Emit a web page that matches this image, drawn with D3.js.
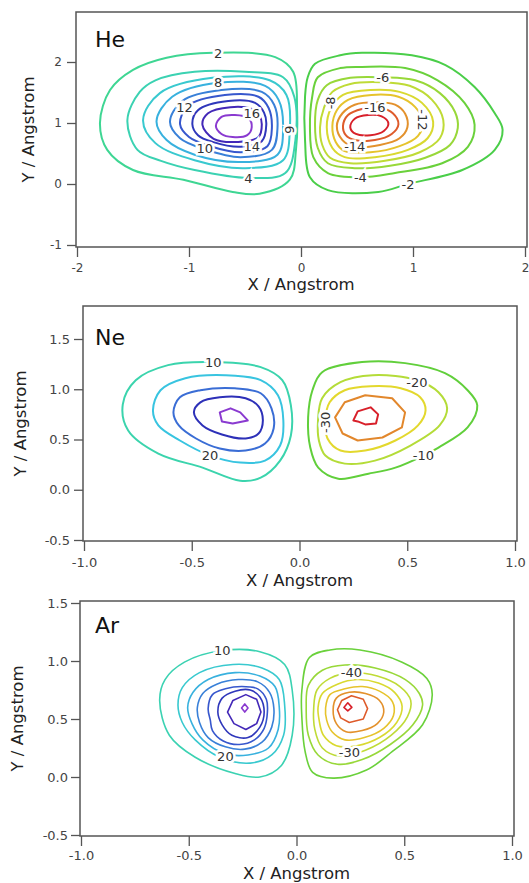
<!DOCTYPE html>
<html>
<head>
<meta charset="utf-8">
<script src="https://cdn.jsdelivr.net/npm/d3@7"></script>
<style>
body { margin: 0; background: #fff; }
text { font-family: "DejaVu Sans", sans-serif; }
</style>
</head>
<body>
<svg id="chart" width="529" height="883"></svg>
<script>
// ---- He ----
var heXTicks = [-2, -1, 0, 1, 2];
var heYTicks = [-1, 0, 1, 2];
var heLevels = [2, 4, 6, 8, 10, 12, 14, 16, 18, -2, -4, -6, -8, -10, -12, -14, -16, -18];
var hePaths = [
  [[-1.795,1.0],[-1.705,1.54],[-1.5,1.87],[-1.2,2.07],[-0.785,2.15],[-0.23,2.08],[-0.07,1.84],[-0.035,1.21],[-0.045,0.56],[-0.1,0.07],[-0.37,-0.16],[-0.61,-0.13],[-1.05,0.07],[-1.5,0.23],[-1.73,0.56]],
  [[-1.55,1.05],[-1.44,1.51],[-1.3,1.7],[-0.95,1.84],[-0.5,1.84],[-0.16,1.75],[-0.06,1.43],[-0.05,0.72],[-0.14,0.18],[-0.47,0.1],[-0.95,0.23],[-1.25,0.38],[-1.46,0.56]],
  [[-1.41,1.05],[-1.26,1.49],[-0.79,1.74],[-0.28,1.7],[-0.13,1.46],[-0.1,0.89],[-0.16,0.39],[-0.5,0.26],[-0.95,0.39],[-1.3,0.67]],
  [[-1.29,1.03],[-1.15,1.43],[-0.74,1.66],[-0.32,1.61],[-0.2,1.38],[-0.16,0.92],[-0.21,0.48],[-0.54,0.36],[-0.95,0.48],[-1.2,0.72]],
  [[-1.17,1.02],[-1.06,1.36],[-0.71,1.54],[-0.35,1.51],[-0.24,1.3],[-0.21,0.92],[-0.26,0.56],[-0.54,0.44],[-0.86,0.57],[-1.08,0.75]],
  [[-1.08,0.98],[-1.01,1.28],[-0.68,1.46],[-0.38,1.43],[-0.29,1.25],[-0.26,0.92],[-0.3,0.62],[-0.54,0.52],[-0.81,0.62],[-1.0,0.77]],
  [[-0.97,0.98],[-0.92,1.21],[-0.65,1.36],[-0.41,1.33],[-0.33,1.17],[-0.31,0.97],[-0.35,0.7],[-0.54,0.61],[-0.79,0.69],[-0.92,0.8]],
  [[-0.88,0.97],[-0.83,1.16],[-0.63,1.26],[-0.44,1.23],[-0.37,1.12],[-0.35,0.98],[-0.38,0.77],[-0.56,0.69],[-0.78,0.74]],
  [[-0.76,0.95],[-0.71,1.1],[-0.59,1.13],[-0.47,1.08],[-0.44,0.93],[-0.48,0.8],[-0.61,0.77],[-0.71,0.82]],
  [[0.036,0.72],[0.036,1.43],[0.06,1.75],[0.125,1.97],[0.35,2.11],[0.545,2.15],[0.99,2.11],[1.29,1.95],[1.55,1.59],[1.73,1.16],[1.8,0.89],[1.73,0.56],[1.44,0.23],[0.955,0.0],[0.69,-0.13],[0.24,-0.1],[0.08,0.11]],
  [[0.08,0.93],[0.1,1.43],[0.15,1.75],[0.35,1.9],[0.545,1.92],[0.93,1.9],[1.22,1.7],[1.46,1.33],[1.55,0.97],[1.49,0.61],[1.26,0.34],[0.84,0.18],[0.53,0.11],[0.24,0.18],[0.11,0.44]],
  [[0.125,0.97],[0.15,1.38],[0.23,1.62],[0.44,1.74],[0.73,1.75],[1.02,1.7],[1.24,1.49],[1.375,1.18],[1.4,0.92],[1.33,0.64],[1.11,0.43],[0.795,0.3],[0.48,0.26],[0.24,0.34],[0.15,0.59]],
  [[0.17,0.93],[0.205,1.25],[0.28,1.51],[0.44,1.64],[0.705,1.67],[0.97,1.61],[1.17,1.38],[1.27,1.05],[1.24,0.75],[1.06,0.52],[0.75,0.38],[0.44,0.34],[0.26,0.43],[0.19,0.64]],
  [[0.23,0.93],[0.27,1.25],[0.375,1.46],[0.62,1.54],[0.88,1.51],[1.08,1.33],[1.18,1.02],[1.13,0.75],[0.955,0.56],[0.66,0.44],[0.39,0.44],[0.28,0.59]],
  [[0.28,0.95],[0.32,1.21],[0.42,1.38],[0.63,1.46],[0.87,1.43],[1.02,1.26],[1.09,1.02],[1.045,0.79],[0.88,0.62],[0.62,0.52],[0.39,0.54],[0.31,0.69]],
  [[0.32,0.95],[0.37,1.16],[0.48,1.3],[0.66,1.34],[0.84,1.3],[0.93,1.15],[0.95,0.93],[0.88,0.75],[0.705,0.64],[0.48,0.61],[0.37,0.72]],
  [[0.375,0.95],[0.42,1.13],[0.545,1.23],[0.705,1.25],[0.82,1.16],[0.87,0.98],[0.81,0.82],[0.66,0.72],[0.48,0.72],[0.4,0.8]],
  [[0.44,0.93],[0.48,1.07],[0.6,1.13],[0.72,1.11],[0.78,1.0],[0.74,0.87],[0.62,0.8],[0.49,0.82]]
];
// [text, x, y, rotation]
var heLabels = [
  ["2",-0.74,2.15,0],["8",-0.74,1.66,0],["12",-1.04,1.25,0],["16",-0.44,1.16,0],
  ["10",-0.86,0.59,0],["14",-0.44,0.61,0],["4",-0.47,0.1,0],["6",-0.1,0.89,90],
  ["-6",0.73,1.75,0],["-8",0.26,1.33,-90],["-16",0.66,1.26,0],["-12",1.09,1.05,90],
  ["-14",0.48,0.61,0],["-4",0.53,0.11,0],["-2",0.955,0.0,0]
];

// ---- Ne ----
var neXTicks = [-1.0, -0.5, 0.0, 0.5, 1.0];
var neYTicks = [-0.5, 0.0, 0.5, 1.0, 1.5];
var neLevels = [10, 20, 30, 40, 50, -10, -20, -30, -40, -50];
var nePaths = [
  [[-0.82,0.85],[-0.76,1.09],[-0.61,1.24],[-0.4,1.27],[-0.18,1.22],[-0.08,1.09],[-0.04,0.84],[-0.04,0.54],[-0.09,0.29],[-0.18,0.12],[-0.275,0.09],[-0.45,0.22],[-0.655,0.36],[-0.795,0.59]],
  [[-0.68,0.79],[-0.645,0.99],[-0.53,1.11],[-0.345,1.14],[-0.18,1.09],[-0.1,0.94],[-0.075,0.69],[-0.09,0.44],[-0.16,0.29],[-0.275,0.27],[-0.415,0.34],[-0.555,0.49],[-0.655,0.64]],
  [[-0.585,0.77],[-0.555,0.92],[-0.46,0.99],[-0.3,1.01],[-0.18,0.96],[-0.13,0.81],[-0.12,0.61],[-0.16,0.46],[-0.25,0.39],[-0.37,0.41],[-0.48,0.51],[-0.56,0.64]],
  [[-0.49,0.77],[-0.46,0.87],[-0.37,0.92],[-0.25,0.91],[-0.19,0.83],[-0.17,0.69],[-0.19,0.56],[-0.25,0.51],[-0.36,0.55],[-0.45,0.64]],
  [[-0.37,0.77],[-0.32,0.81],[-0.275,0.77],[-0.24,0.69],[-0.31,0.66],[-0.36,0.68]],
  [[0.04,0.72],[0.06,0.99],[0.105,1.17],[0.29,1.27],[0.49,1.26],[0.675,1.16],[0.78,0.99],[0.825,0.84],[0.78,0.62],[0.645,0.42],[0.575,0.34],[0.445,0.22],[0.32,0.16],[0.18,0.11],[0.087,0.22],[0.05,0.42]],
  [[0.086,0.69],[0.105,0.91],[0.19,1.07],[0.34,1.14],[0.545,1.09],[0.645,0.97],[0.685,0.81],[0.65,0.64],[0.515,0.44],[0.35,0.29],[0.21,0.26],[0.12,0.34],[0.09,0.49]],
  [[0.12,0.69],[0.14,0.87],[0.21,0.99],[0.33,1.03],[0.47,1.01],[0.56,0.92],[0.585,0.79],[0.55,0.64],[0.445,0.49],[0.305,0.39],[0.19,0.39],[0.13,0.51]],
  [[0.165,0.72],[0.21,0.87],[0.305,0.94],[0.43,0.91],[0.49,0.77],[0.475,0.62],[0.385,0.52],[0.27,0.49],[0.2,0.56]],
  [[0.25,0.69],[0.27,0.78],[0.33,0.82],[0.365,0.75],[0.355,0.66],[0.305,0.65],[0.27,0.68]]
];
var neLabels = [
  ["10",-0.4,1.27,0],["20",-0.415,0.34,0],["-20",0.545,1.07,0],["-30",0.12,0.67,-90],["-10",0.575,0.34,0]
];

// ---- Ar ----
var arXTicks = [-1.0, -0.5, 0.0, 0.5, 1.0];
var arYTicks = [-0.5, 0.0, 0.5, 1.0, 1.5];
var arLevels = [10, 15, 20, 25, 30, 35, 40, 45, -10, -15, -20, -25, -30, -35, -40, -45];
var arPaths = [
  [[-0.635,0.66],[-0.61,0.84],[-0.52,0.99],[-0.345,1.09],[-0.17,1.08],[-0.055,0.97],[-0.02,0.75],[-0.02,0.36],[-0.07,0.1],[-0.17,0.0],[-0.285,0.03],[-0.47,0.17],[-0.59,0.36]],
  [[-0.55,0.62],[-0.53,0.77],[-0.45,0.9],[-0.295,0.97],[-0.16,0.94],[-0.08,0.84],[-0.055,0.62],[-0.06,0.36],[-0.115,0.19],[-0.215,0.12],[-0.355,0.17],[-0.47,0.32],[-0.53,0.47]],
  [[-0.505,0.6],[-0.48,0.73],[-0.41,0.84],[-0.285,0.9],[-0.17,0.87],[-0.1,0.78],[-0.08,0.6],[-0.085,0.41],[-0.13,0.25],[-0.225,0.19],[-0.33,0.2],[-0.435,0.32],[-0.485,0.46]],
  [[-0.46,0.6],[-0.435,0.72],[-0.37,0.8],[-0.27,0.84],[-0.18,0.82],[-0.125,0.73],[-0.105,0.59],[-0.115,0.43],[-0.16,0.3],[-0.24,0.24],[-0.33,0.26],[-0.41,0.34],[-0.45,0.47]],
  [[-0.41,0.59],[-0.39,0.71],[-0.33,0.76],[-0.255,0.78],[-0.18,0.76],[-0.14,0.67],[-0.135,0.56],[-0.15,0.42],[-0.195,0.32],[-0.265,0.28],[-0.34,0.31],[-0.39,0.4],[-0.4,0.49]],
  [[-0.365,0.56],[-0.345,0.68],[-0.285,0.74],[-0.215,0.75],[-0.17,0.69],[-0.15,0.56],[-0.17,0.43],[-0.225,0.34],[-0.3,0.36],[-0.345,0.45]],
  [[-0.32,0.56],[-0.295,0.66],[-0.235,0.71],[-0.185,0.67],[-0.165,0.56],[-0.185,0.46],[-0.235,0.41],[-0.29,0.46]],
  [[-0.255,0.595],[-0.24,0.63],[-0.225,0.595],[-0.24,0.56]],
  [[0.025,0.51],[0.025,0.75],[0.06,1.03],[0.155,1.095],[0.295,1.095],[0.49,0.99],[0.605,0.85],[0.63,0.71],[0.585,0.45],[0.445,0.22],[0.325,0.06],[0.17,-0.01],[0.075,0.04],[0.04,0.22]],
  [[0.045,0.6],[0.055,0.79],[0.12,0.92],[0.225,0.965],[0.365,0.94],[0.505,0.84],[0.57,0.72],[0.585,0.62],[0.54,0.45],[0.435,0.28],[0.305,0.15],[0.19,0.11],[0.1,0.19],[0.055,0.36]],
  [[0.08,0.6],[0.095,0.75],[0.155,0.85],[0.255,0.9],[0.375,0.87],[0.48,0.78],[0.53,0.66],[0.515,0.52],[0.44,0.36],[0.32,0.23],[0.2,0.18],[0.12,0.25],[0.085,0.41]],
  [[0.1,0.6],[0.12,0.72],[0.19,0.8],[0.28,0.84],[0.38,0.81],[0.455,0.73],[0.49,0.61],[0.465,0.47],[0.385,0.34],[0.28,0.27],[0.185,0.27],[0.125,0.36],[0.105,0.49]],
  [[0.135,0.595],[0.155,0.71],[0.225,0.76],[0.305,0.78],[0.385,0.74],[0.445,0.65],[0.45,0.53],[0.405,0.42],[0.315,0.34],[0.225,0.32],[0.165,0.39],[0.14,0.49]],
  [[0.17,0.58],[0.185,0.68],[0.245,0.73],[0.32,0.72],[0.385,0.66],[0.405,0.56],[0.375,0.46],[0.305,0.4],[0.23,0.39],[0.185,0.46]],
  [[0.19,0.58],[0.21,0.66],[0.255,0.7],[0.31,0.67],[0.33,0.59],[0.31,0.5],[0.245,0.47],[0.205,0.51]],
  [[0.22,0.6],[0.238,0.64],[0.257,0.6],[0.238,0.57]]
];
var arLabels = [
  ["10",-0.345,1.095,0],["20",-0.33,0.18,0],["-40",0.255,0.9,0],["-30",0.245,0.21,0]
];

// rainbow colour table, normalised level -1..1
var colorStops = [-1, -0.85, -0.62, -0.4, -0.15, 0.15, 0.4, 0.62, 0.85, 1];
var colorRange = ['#d8202a','#e0702c','#e8d82c','#b4dc38','#4ccc3c','#3cd8a0','#38c4e0','#3a64d4','#2a22b0','#8a3ad0'];
var color = d3.scaleLinear().domain(colorStops).range(colorRange);

var panels = [
  {name:"He", levels:heLevels, paths:hePaths, labels:heLabels, xTicks:heXTicks, yTicks:heYTicks,
   xDomain:[-2,2], yDomain:[-1,2], fmt:function(d){return String(d);}, smooth:true,
   frame:[76,12,527,247], xRange:[77,525], yRange:[245,62], tickFont:12, xPad:6, yPad:5,
   nameY:47, xTitleY:290, yTitleX:34, lw:2},
  {name:"Ne", levels:neLevels, paths:nePaths, labels:neLabels, xTicks:neXTicks, yTicks:neYTicks,
   xDomain:[-1,1], yDomain:[-0.5,1.5], fmt:function(d){return d.toFixed(1);}, smooth:false,
   frame:[83,306,517,541], xRange:[84,515], yRange:[540,339], tickFont:13, xPad:7, yPad:4,
   nameY:345, xTitleY:586, yTitleX:26, lw:2},
  {name:"Ar", levels:arLevels, paths:arPaths, labels:arLabels, xTicks:arXTicks, yTicks:arYTicks,
   xDomain:[-1,1], yDomain:[-0.5,1.5], fmt:function(d){return d.toFixed(1);}, smooth:false,
   frame:[80,601,514,836], xRange:[81,512], yRange:[835,603], tickFont:13, xPad:5, yPad:3,
   nameY:633, xTitleY:879, yTitleX:23, lw:1.6}
];

var svg = d3.select('#chart');

panels.forEach(function(p){
  var x = d3.scaleLinear().domain(p.xDomain).range(p.xRange);
  var y = d3.scaleLinear().domain(p.yDomain).range(p.yRange);
  var maxLevel = d3.max(p.levels, function(v){return Math.abs(v);});
  var f = p.frame;
  var g = svg.append('g');

  // contours
  g.selectAll('path.contour')
    .data(p.paths)
    .enter()
    .append('path')
    .attr('class','contour')
    .attr('d', function(d){
      var curve = (p.smooth || d.length > 9) ? d3.curveCatmullRomClosed.alpha(0.5) : d3.curveLinearClosed;
      return d3.line().x(function(q){return x(q[0]);}).y(function(q){return y(q[1]);}).curve(curve)(d);
    })
    .attr('fill','none')
    .attr('stroke', function(d,i){ return color(p.levels[i]/maxLevel); })
    .attr('stroke-width', p.lw)
    .attr('stroke-linejoin','round');

  // contour labels
  g.selectAll('text.clab')
    .data(p.labels)
    .enter()
    .append('text')
    .attr('class','clab')
    .attr('transform', function(d){ return 'translate('+x(d[1])+','+y(d[2])+') rotate('+d[3]+')'; })
    .attr('text-anchor','middle')
    .attr('dy','0.36em')
    .attr('font-size',13)
    .attr('fill','#333')
    .attr('stroke','#fff')
    .attr('stroke-width',5)
    .attr('paint-order','stroke')
    .text(function(d){return d[0];});

  // frame
  g.append('rect')
    .attr('x',f[0]).attr('y',f[1])
    .attr('width',f[2]-f[0]).attr('height',f[3]-f[1])
    .attr('fill','none').attr('stroke','#555').attr('stroke-width',1.5);

  // axes
  var xa = g.append('g').attr('transform','translate(0,'+f[3]+')')
    .call(d3.axisBottom(x).tickValues(p.xTicks).tickFormat(p.fmt).tickSize(10).tickPadding(p.xPad).tickSizeOuter(0));
  var ya = g.append('g').attr('transform','translate('+f[0]+',0)')
    .call(d3.axisLeft(y).tickValues(p.yTicks).tickFormat(p.fmt).tickSize(9).tickPadding(p.yPad).tickSizeOuter(0));
  [xa, ya].forEach(function(a){
    a.select('.domain').remove();
    a.selectAll('line').attr('stroke','#555').attr('stroke-width',1.3);
    a.selectAll('text').attr('fill','#444').attr('font-size',p.tickFont).attr('font-family','"DejaVu Sans", sans-serif');
  });

  // panel name
  g.append('text').attr('x',95).attr('y',p.nameY)
    .attr('font-size',22).attr('fill','#111').text(p.name);

  // axis titles
  g.append('text').attr('x',x(0)).attr('y',p.xTitleY)
    .attr('text-anchor','middle').attr('font-size',16.5).attr('fill','#222')
    .text('X / Angstrom');
  g.append('text')
    .attr('transform','translate('+p.yTitleX+','+((f[1]+f[3])/2)+') rotate(-90)')
    .attr('text-anchor','middle').attr('font-size',16.5).attr('fill','#222')
    .text('Y / Angstrom');
});
</script>
</body>
</html>
